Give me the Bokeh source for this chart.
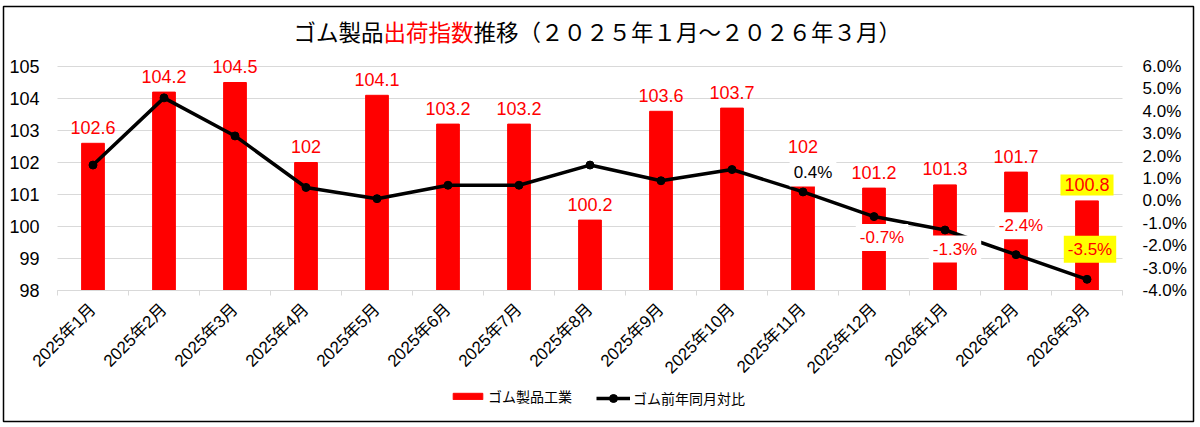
import math
from bokeh.plotting import figure
from bokeh.models import (Range1d, LinearAxis, FixedTicker, PrintfTickFormatter, Grid,
                          Label, Legend, LegendItem, ColumnDataSource)
from bokeh.embed import file_html
from bokeh.resources import INLINE

# ---- data ----
months = ["2025年1月", "2025年2月", "2025年3月", "2025年4月", "2025年5月", "2025年6月",
          "2025年7月", "2025年8月", "2025年9月", "2025年10月", "2025年11月", "2025年12月",
          "2026年1月", "2026年2月", "2026年3月"]
index_values = [102.6, 104.2, 104.5, 102.0, 104.1, 103.2, 103.2, 100.2, 103.6, 103.7,
                102.0, 101.2, 101.3, 101.7, 100.8]
yoy_values = [1.6, 4.6, 2.9, 0.6, 0.1, 0.7, 0.7, 1.6, 0.9, 1.4, 0.4, -0.7, -1.3, -2.4, -3.5]
left_ticks = [98, 99, 100, 101, 102, 103, 104, 105]
right_ticks = [-4, -3, -2, -1, 0, 1, 2, 3, 4, 5, 6]
bar_name = "ゴム製品工業"
line_name = "ゴム前年同月対比"
title_parts = ["ゴム製品", "出荷指数", "推移（２０２５年１月～２０２６年３月）"]

LAT = "Liberation Sans, Noto Sans CJK JP"
JP = "Noto Sans CJK JP"

# ---- layout geometry (pixels) ----
W, H = 1200, 427
FR_L, FR_R, FR_T, FR_B = 3, 1193, 6, 421      # outer chart border
PA_L, PA_R, PA_T, PA_B = 57, 1122, 66, 290    # plot area

n = len(months)
xs = [i + 0.5 for i in range(n)]
xpx = (PA_R - PA_L) / n
x_start, x_end = -(PA_L - FR_L) / xpx, n + (FR_R - PA_R) / xpx
ylo, yhi = left_ticks[0], left_ticks[-1]
ypx = (PA_B - PA_T) / (yhi - ylo)
y_start, y_end = ylo - (FR_B - PA_B) / ypx, yhi + (PA_T - FR_T) / ypx
plo, phi = right_ticks[0], right_ticks[-1]
ppx = (PA_B - PA_T) / (phi - plo)
p_start, p_end = plo - (FR_B - PA_B) / ppx, phi + (PA_T - FR_T) / ppx

src = ColumnDataSource(dict(x=xs, idx=index_values, yoy=yoy_values))

p = figure(width=W, height=H, output_backend="svg", toolbar_location=None,
           x_range=Range1d(x_start, x_end), y_range=Range1d(y_start, y_end),
           x_axis_location=None, y_axis_location=None,
           min_border_left=FR_L, min_border_right=W - FR_R,
           min_border_top=FR_T, min_border_bottom=H - FR_B)
p.extra_y_ranges = {"pct": Range1d(p_start, p_end)}
p.outline_line_color = "black"
p.outline_line_width = 1.5
p.background_fill_color = "white"
p.border_fill_color = "white"
p.grid.visible = False

# axes
xa = LinearAxis(fixed_location=ylo, bounds=(0, n),
                ticker=FixedTicker(ticks=xs, minor_ticks=list(range(n + 1))))
xa.major_label_overrides = {x: m for x, m in zip(xs, months)}
xa.major_label_orientation = math.pi / 4
xa.major_tick_line_color = None
xa.minor_tick_line_color = "#d9d9d9"
xa.minor_tick_in = 0
xa.minor_tick_out = 5
xa.axis_line_color = "#d9d9d9"
xa.major_label_text_font = LAT
xa.major_label_text_font_size = "17px"
xa.major_label_text_color = "black"
xa.major_label_standoff = 10
p.add_layout(xa, "below")

ya = LinearAxis(fixed_location=0, ticker=FixedTicker(ticks=left_ticks))
ya.axis_line_color = None
ya.major_tick_line_color = None
ya.minor_tick_line_color = None
ya.major_label_text_font = LAT
ya.major_label_text_font_size = "18px"
ya.major_label_text_color = "black"
ya.major_label_standoff = 12
p.add_layout(ya, "left")

ra = LinearAxis(y_range_name="pct", fixed_location=n, ticker=FixedTicker(ticks=right_ticks),
                formatter=PrintfTickFormatter(format="%.1f%%"))
ra.axis_line_color = None
ra.major_tick_line_color = None
ra.minor_tick_line_color = None
ra.major_label_text_font = LAT
ra.major_label_text_font_size = "17px"
ra.major_label_text_color = "black"
ra.major_label_standoff = 14
p.add_layout(ra, "right")

# horizontal gridlines limited to the plot area
if "cross_bounds" in Grid.properties():
    g = Grid(dimension=1, ticker=FixedTicker(ticks=left_ticks), bounds=(ylo, yhi),
             cross_bounds=(0, n), grid_line_color="#d9d9d9")
    p.add_layout(g)
else:
    p.segment(x0=0, x1=n, y0=left_ticks, y1=left_ticks, line_color="#d9d9d9", level="underlay")

# glyphs
bars = p.vbar(x="x", top="idx", bottom=ylo, width=0.32, color="#ff0000", source=src)
ln = p.line(x="x", y="yoy", line_color="black", line_width=3.5, y_range_name="pct", source=src)
pts = p.scatter(x="x", y="yoy", size=8, color="black", y_range_name="pct", source=src)

# bar value labels
for i, v in enumerate(index_values):
    hl = (i == n - 1)
    p.add_layout(Label(x=xs[i], y=v, text=f"{v:g}", text_align="center", text_baseline="middle",
                       y_offset=16, text_color="#ff0000", text_font=LAT, text_font_size="18px",
                       background_fill_color="#ffff00" if hl else None, padding=4))

# line value labels (last five months)
offsets = {10: (10, 19), 11: (8, -21), 12: (10, -19), 13: (5, 29), 14: (3, 30)}
for i, (dx, dy) in offsets.items():
    v = yoy_values[i]
    hl = (i == n - 1)
    p.add_layout(Label(x=xs[i], y=v, y_range_name="pct", text=f"{v:.1f}%", text_align="center",
                       text_baseline="middle", x_offset=dx, y_offset=dy,
                       text_color="black" if v >= 0 else "#ff0000", text_font=LAT,
                       text_font_size="17px",
                       background_fill_color="#ffff00" if hl else "white", padding=4))

# title (three coloured parts)
fs = 22.5
tx = 293 - FR_L
for part, col in zip(title_parts, ["black", "#ff0000", "black"]):
    p.add_layout(Label(x=tx, y=FR_B - 30, x_units="screen", y_units="screen", text=part,
                       text_color=col, text_font=JP, text_font_size=f"{fs}px",
                       text_baseline="middle", text_align="left"))
    tx += fs * len(part)


# legends (two, so each glyph gets its own size)
def style_legend(lg):
    lg.border_line_color = None
    lg.background_fill_alpha = 0
    lg.padding = 0
    lg.margin = 0
    lg.label_height = 16
    lg.label_text_font = JP
    lg.label_text_font_size = "14px"
    lg.label_text_color = "black"
    lg.label_text_baseline = "middle"


lg1 = Legend(items=[LegendItem(label=bar_name, renderers=[bars])],
             orientation="horizontal", location=(449 - FR_L, FR_B - 406))
style_legend(lg1)
lg1.glyph_width = 37
lg1.glyph_height = 8
lg1.label_standoff = 2
p.add_layout(lg1, "center")

lg2 = Legend(items=[LegendItem(label=line_name, renderers=[ln, pts])],
             orientation="horizontal", location=(596 - FR_L, FR_B - 408))
style_legend(lg2)
lg2.glyph_width = 34
lg2.glyph_height = 20
lg2.label_standoff = 3
p.add_layout(lg2, "center")

open("out.html", "w").write(file_html(p, INLINE))
